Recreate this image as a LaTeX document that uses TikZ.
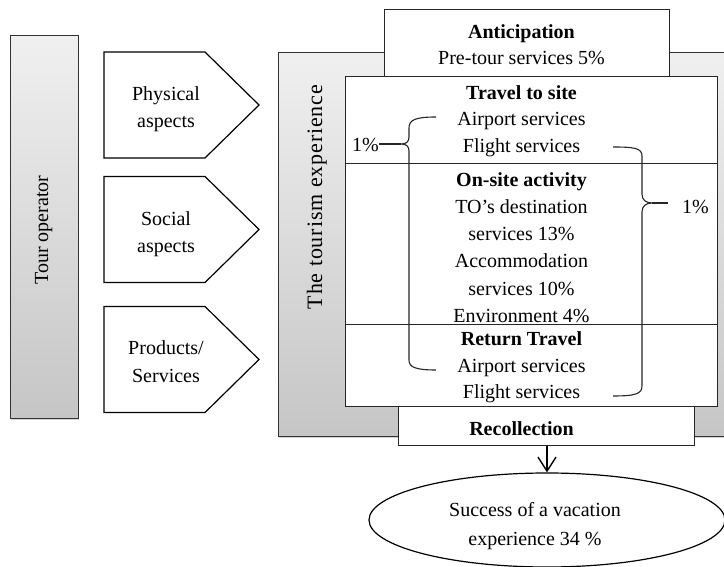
\documentclass[tikz,border=0pt]{standalone}
\usepackage{fontspec}
\setmainfont{Liberation Serif}
\usetikzlibrary{shapes.geometric,arrows.meta,shadows}
\begin{document}
\begin{tikzpicture}[x=1pt,y=-1pt,
  txt/.style={font=\fontsize{20}{24}\selectfont, inner sep=0pt, anchor=base},
  hd/.style={txt, font=\fontsize{20}{24}\selectfont\bfseries},
  greybox/.style={draw=black!80, line width=1.1pt, top color=gray!12, bottom color=gray!45,
    rectangle, inner sep=0pt, anchor=north west,
    drop shadow={shadow xshift=0.6pt, shadow yshift=-1.8pt, opacity=0.35}},
  stagebox/.style={draw=black!85, line width=1pt, fill=white, rectangle, inner sep=0pt, anchor=north west},
  aspect/.style={draw=black, line width=1.2pt, fill=white, line join=miter},
  brace/.style={draw=black!85, line width=1.1pt},
]
\useasboundingbox (0,0) rectangle (724,567);

% Tour operator column
\node[greybox, minimum width=68pt, minimum height=383pt] (tour) at (10,35) {};
\node[txt, rotate=90] (tourlbl) at (48,230) {Tour operator};

% Three aspect arrows (pentagons pointing right)
\coordinate (phys) at (104,52);
\path[aspect] (phys) -- ++(101,0) -- ++(54,53) -- ++(-54,53) -- ++(-101,0) -- cycle;
\node[txt] (phys1) at (166,101) {Physical};
\node[txt] (phys2) at (166,128) {aspects};

\coordinate (soc) at (104,176.5);
\path[aspect] (soc) -- ++(101,0) -- ++(54,53) -- ++(-54,53) -- ++(-101,0) -- cycle;
\node[txt] (soc1) at (166,226) {Social};
\node[txt] (soc2) at (166,253) {aspects};

\coordinate (prod) at (104,306.5);
\path[aspect] (prod) -- ++(101,0) -- ++(54,53) -- ++(-54,53) -- ++(-101,0) -- cycle;
\node[txt] (prod1) at (166,355) {Products/};
\node[txt] (prod2) at (166,382) {Services};

% The tourism experience frame
\node[greybox, minimum width=446pt, minimum height=384pt] (exp) at (278,52) {};
\node[txt, rotate=90, font=\fontsize{22}{26}\selectfont] (explbl) at (322,197)
  {\addfontfeature{LetterSpace=4}The tourism experience};

% Stages
\node[stagebox, minimum width=285pt, minimum height=67pt] (antic) at (384,9) {};
\node[stagebox, minimum width=372pt, minimum height=87pt] (travel) at (345,76) {};
\node[stagebox, minimum width=372pt, minimum height=161pt] (onsite) at (345,163) {};
\node[stagebox, minimum width=372pt, minimum height=82pt] (ret) at (345,324) {};
\node[stagebox, minimum width=296pt, minimum height=39pt] (recol) at (398,406) {};

\node[hd]  (a1) at (521.5,38.5) {Anticipation};
\node[txt] (a2) at (521.5,65) {Pre-tour services 5\%};

\node[hd]  (t1) at (521.5,100) {Travel to site};
\node[txt] (t2) at (521.5,126) {Airport services};
\node[txt] (t3) at (521.5,152.5) {Flight services};

\node[hd]  (o1) at (521.5,187) {On-site activity};
\node[txt] (o2) at (521.5,214) {TO’s destination};
\node[txt] (o3) at (521.5,241) {services 13\%};
\node[txt] (o4) at (521.5,268) {Accommodation};
\node[txt] (o5) at (521.5,295.5) {services 10\%};
\node[txt] (o6) at (521.5,322.5) {Environment 4\%};

\node[hd]  (r1) at (521.5,345.5) {Return Travel};
\node[txt] (r2) at (521.5,372.5) {Airport services};
\node[txt] (r3) at (521.5,399) {Flight services};

\node[hd]  (c1) at (521.5,435) {Recollection};

% Outcome
\node[draw=black, line width=1.2pt, fill=white, ellipse, inner sep=0pt,
  minimum width=356pt, minimum height=94pt] (succ) at (547,520) {};
\node[txt] (s1) at (535,516.5) {Success of a vacation};
\node[txt] (s2) at (535,545) {experience 34 \%};

\draw[line width=1.4pt, -{Straight Barb[length=14pt,width=18pt,line width=1.4pt]}]
  (recol.south -| succ.north) -- (succ.north);

% Braces grouping the airport and flight services
\coordinate (lbtop) at (436,117);
\coordinate (lbtip) at (401,144);
\coordinate (lbbot) at (436,370);
\node[txt, anchor=base east] (lpct) at (379,151.5) {1\%};
\draw[brace] (lbtop) .. controls (415,117) and (409,120) .. (409,128) -- (409,137)
  .. controls (409,142) and (406,144) .. (lbtip)
  .. controls (406,144) and (409,146) .. (409,151) -- (409,360)
  .. controls (409,367) and (415,370) .. (lbbot);
\draw[brace] (lbtip) -- (lpct.east |- lbtip);

\coordinate (rbtop) at (613,147);
\coordinate (rbtip) at (652,203);
\coordinate (rbbot) at (613,396);
\node[txt, anchor=base west] (rpct) at (682,214) {1\%};
\draw[brace] (rbtop) .. controls (634,147) and (642,148) .. (642,156) -- (642,194)
  .. controls (642,200) and (646,203) .. (rbtip)
  .. controls (646,203) and (642,206) .. (642,212) -- (642,386)
  .. controls (642,394) and (635,396) .. (rbbot);
\draw[brace] (rbtip) -- (668,203);
\end{tikzpicture}
\end{document}
